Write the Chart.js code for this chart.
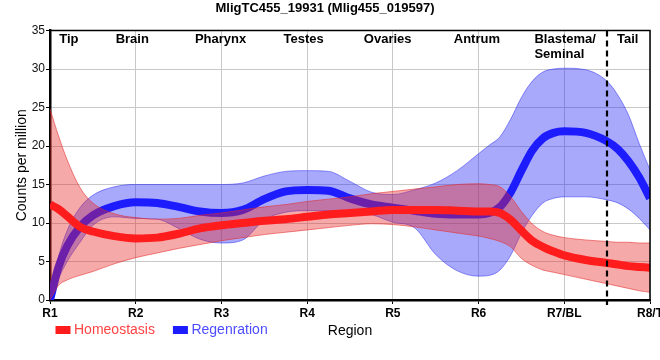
<!DOCTYPE html>
<html><head><meta charset="utf-8">
<script src="https://cdn.jsdelivr.net/npm/chart.js@4.4.1/dist/chart.umd.min.js"></script>
<style>html,body{margin:0;padding:0;background:#fff;}</style>
</head><body>
<canvas id="c" width="660" height="360"></canvas>
<script>
// ---- data ----
const tickLabels = ['R1','R2','R3','R4','R5','R6','R7/BL','R8/T'];
const regionNames = ['Tip','Brain','Pharynx','Testes','Ovaries','Antrum','Blastema/\nSeminal','Tail'];
const regionNameAt = [1.22,1.96,2.99,3.96,4.94,5.98,7.01,7.74];
const dividerAt = 7.5;
const xs = [1,1.1,1.2,1.35,1.5,1.75,2,2.25,2.5,2.75,3,3.25,3.5,3.75,4,4.25,4.5,4.75,5,5.25,5.5,5.75,6,6.125,6.25,6.375,6.5,6.625,6.75,6.875,7,7.25,7.5,7.625,7.75,7.875,8];
const homeoMean  = [12.4,11.8,10.9,9.5,8.9,8.3,8.0,8.1,8.6,9.3,9.7,10.0,10.3,10.5,10.8,11.1,11.3,11.5,11.7,11.7,11.7,11.6,11.5,11.5,11.3,10.4,9.0,7.7,6.9,6.3,5.8,5.2,4.8,4.6,4.4,4.3,4.2];
const homeoUpper = [24.8,21.3,18.2,14.6,12.6,11.2,10.7,10.5,10.6,11.0,11.3,11.7,12.1,12.4,12.8,13.1,13.4,13.8,14.1,14.4,14.7,15.0,15.1,15.0,14.7,13.4,11.5,9.9,8.9,8.4,8.1,7.8,7.6,7.5,7.5,7.4,7.4];
const homeoLower = [0.0,1.9,2.6,3.2,3.7,4.7,5.5,6.1,6.7,7.2,7.7,8.1,8.5,8.8,9.1,9.4,9.7,9.9,9.8,9.5,9.1,8.7,8.3,8.0,7.6,6.9,5.4,4.5,3.9,3.6,3.3,2.7,2.1,1.8,1.5,1.2,1.0];
const regenMean  = [0.0,4.3,7.0,9.5,11.0,12.2,12.7,12.6,12.1,11.5,11.3,11.7,13.1,14.1,14.3,14.2,13.2,12.4,12.0,11.6,11.2,11.1,11.1,11.3,12.1,14.0,16.8,19.4,21.0,21.7,21.9,21.7,20.6,19.6,18.0,15.9,13.2];
const regenUpper = [0.0,5.6,9.0,12.0,13.6,14.7,15.0,15.0,15.0,15.0,15.0,15.2,16.1,16.7,16.8,16.7,15.4,14.0,13.7,14.3,15.2,16.8,19.0,20.1,21.2,23.5,26.3,28.4,29.6,30.0,30.1,29.9,28.4,26.6,24.0,20.3,16.9];
const regenLower = [0.0,2.8,5.0,7.5,9.7,10.8,10.6,10.5,9.3,7.9,7.4,7.8,10.4,11.4,11.6,11.6,11.5,11.1,10.1,9.4,5.9,3.8,3.1,3.2,3.9,5.8,8.7,11.0,12.6,13.2,13.4,13.4,13.0,12.6,11.8,10.6,9.1];

// ---- styling ----
Chart.defaults.font.family = "'Liberation Sans', Arial, sans-serif";
const RED = 'rgb(255,28,28)', BLUE = 'rgb(28,28,255)';
const RED_FILL = 'rgba(230,40,40,0.4)', RED_EDGE = 'rgba(230,40,40,0.55)';
const BLUE_FILL = 'rgba(40,40,245,0.4)', BLUE_EDGE = 'rgba(40,40,245,0.5)';
const pts = ys => xs.map((x, i) => ({x: x, y: ys[i]}));

const datasets = [
  {label:'Homeostasis', data:pts(homeoMean), borderColor:RED, backgroundColor:RED, borderWidth:8, fill:false, order:0, legendText:'#ff4444'},
  {label:'_hu', data:pts(homeoUpper), borderColor:RED_EDGE, backgroundColor:RED_FILL, borderWidth:1, fill:2, order:1},
  {label:'_hl', data:pts(homeoLower), borderColor:RED_EDGE, borderWidth:1, fill:false, order:1},
  {label:'Regenration', data:pts(regenMean), borderColor:BLUE, backgroundColor:BLUE, borderWidth:8, fill:false, order:2, legendText:'#4d4dff'},
  {label:'_ru', data:pts(regenUpper), borderColor:BLUE_EDGE, backgroundColor:BLUE_FILL, borderWidth:1, fill:5, order:3},
  {label:'_rl', data:pts(regenLower), borderColor:BLUE_EDGE, borderWidth:1, fill:false, order:3}
];

const decor = {
  id:'decor',
  afterDatasetsDraw(chart){
    const {ctx, chartArea:a, scales:{x}} = chart;
    ctx.save();
    // frame top/right
    ctx.strokeStyle = '#000'; ctx.lineWidth = 1.5; ctx.setLineDash([]);
    ctx.beginPath(); ctx.moveTo(a.left, a.top); ctx.lineTo(a.right, a.top); ctx.lineTo(a.right, a.bottom); ctx.stroke();
    // divider
    const dx = Math.round(x.getPixelForValue(dividerAt));
    ctx.lineWidth = 2.2; ctx.setLineDash([6,4]);
    ctx.beginPath(); ctx.moveTo(dx, a.top); ctx.lineTo(dx, a.bottom + 5); ctx.stroke();
    ctx.setLineDash([]);
    // region names
    ctx.fillStyle = '#000'; ctx.font = "bold 13px 'Liberation Sans', Arial, sans-serif";
    ctx.textBaseline = 'middle';
    regionNames.forEach((name, i) => {
      const lines = name.split('\n');
      const cx = x.getPixelForValue(regionNameAt[i]);
      const w = Math.max(...lines.map(l => ctx.measureText(l).width));
      ctx.textAlign = 'left';
      lines.forEach((l, j) => ctx.fillText(l, cx - w/2, a.top + 9 + j*15));
    });
    ctx.restore();
  },
  afterDraw(chart){
    const {ctx, chartArea:a} = chart;
    ctx.save();
    ctx.font = "14px 'Liberation Sans', Arial, sans-serif";
    ctx.textBaseline = 'middle'; ctx.textAlign = 'left';
    let px = a.left + 5.5;
    const py = a.bottom + 30;
    chart.data.datasets.filter(d => !d.label.startsWith('_')).forEach(d => {
      ctx.fillStyle = d.borderColor;
      ctx.fillRect(px, py - 4, 15, 8);
      ctx.fillStyle = d.legendText;
      ctx.fillText(d.label, px + 18.5, py);
      px += 18.5 + ctx.measureText(d.label).width + 18;
    });
    ctx.restore();
  }
};

new Chart(document.getElementById('c'), {
  type:'line',
  data:{datasets},
  plugins:[decor],
  options:{
    responsive:false, animation:false, events:[],
    layout:{padding:{left:0,right:10,top:0,bottom:0}},
    elements:{point:{radius:0}, line:{cubicInterpolationMode:'monotone'}},
    plugins:{
      legend:{display:false}, tooltip:{enabled:false},
      title:{display:true, text:'MligTC455_19931 (Mlig455_019597)', color:'#000', font:{size:13, weight:'bold'}, padding:{top:1, bottom:13.9}}
    },
    scales:{
      x:{type:'linear', min:1, max:8,
         ticks:{stepSize:1, autoSkip:false, maxRotation:0, padding:2, color:'#000', font:{size:12, weight:'bold'}, callback:v => tickLabels[Math.round(v)-1]},
         grid:{color:'#c8c8c8', tickColor:'#000', tickLength:4},
         border:{color:'#000', width:2.5},
         title:{display:true, text:'Region', color:'#000', font:{size:14}, padding:{top:0, bottom:20.6}},
         afterFit:s => { s.height = 60; s.paddingLeft = 0; s.paddingRight = 0; }},
      y:{min:0, max:35,
         ticks:{stepSize:5, padding:1, color:'#111', font:{size:12}},
         grid:{color:'#c8c8c8', tickColor:'#000', tickLength:4},
         border:{color:'#000', width:2.5},
         title:{display:true, text:'Counts per million', color:'#000', font:{size:14}, padding:{top:13.5, bottom:0}},
         afterFit:s => { s.width = 50; s.paddingTop = 0; s.paddingBottom = 0; }}
    }
  }
});
</script>
</body></html>
